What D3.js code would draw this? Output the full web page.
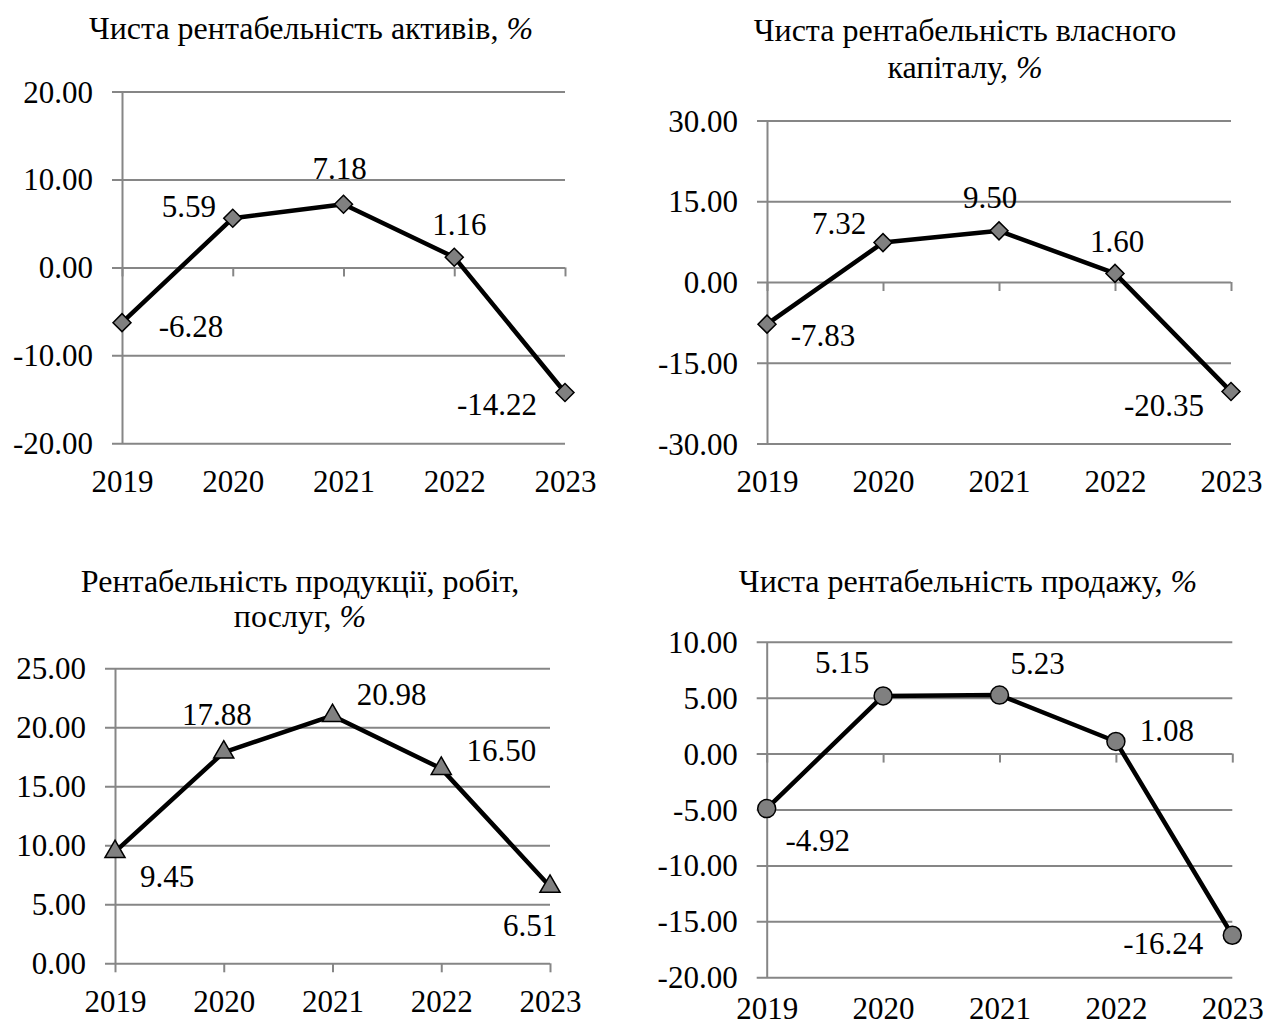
<!DOCTYPE html>
<meta charset="utf-8">
<style>
body {margin: 0; background: #fff;}
text {font-family: "Liberation Serif", "Times New Roman", serif; fill: #000;}
</style>
<body>
<div id="chart"></div>
<script src="https://d3js.org/d3.v7.min.js"></script>
<script>
// data
var years = ["2019", "2020", "2021", "2022", "2023"];
var roaValues = [-6.28, 5.59, 7.18, 1.16, -14.22];
var roeValues = [-7.83, 7.32, 9.50, 1.60, -20.35];
var productValues = [9.45, 17.88, 20.98, 16.50, 6.51];
var salesValues = [-4.92, 5.15, 5.23, 1.08, -16.24];
var roaTicks = [-20, -10, 0, 10, 20];
var roeTicks = [-30, -15, 0, 15, 30];
var productTicks = [0, 5, 10, 15, 20, 25];
var salesTicks = [-20, -15, -10, -5, 0, 5, 10];
var roaTitle = ["Чиста рентабельність активів, "];
var roeTitle = ["Чиста рентабельність власного", "капіталу, "];
var productTitle = ["Рентабельність продукції, робіт,", "послуг, "];
var salesTitle = ["Чиста рентабельність продажу, "];

// layout of the four panels (pixels)
var panels = [
  {values: roaValues, ticks: roaTicks, title: roaTitle, marker: "diamond",
   left: 122, right: 565, top: 91.5, bottom: 443.3, titleX: 311, titleY: [39], catPad: 27,
   offsets: [[69, 4], [-44, -12], [-4, -36], [5, -33], [-68, 12]]},
  {values: roeValues, ticks: roeTicks, title: roeTitle, marker: "diamond",
   left: 767, right: 1231, top: 120.5, bottom: 443.5, titleX: 965, titleY: [41, 78], catPad: 26,
   offsets: [[56, 11], [-44, -19], [-9, -33], [2, -32], [-67, 14]]},
  {values: productValues, ticks: productTicks, title: productTitle, marker: "triangle",
   left: 115, right: 550, top: 668.3, bottom: 963.3, titleX: 300, titleY: [592, 627], catPad: 27,
   offsets: [[52, 25], [-7, -38], [59, -21], [60, -18], [-20, 39]]},
  {values: salesValues, ticks: salesTicks, title: salesTitle, marker: "circle",
   left: 766.7, right: 1232.3, top: 641.7, bottom: 977.3, titleX: 968, titleY: [592], catPad: 20,
   offsets: [[51, 32], [-41, -33], [38, -32], [51, -11], [-69, 8]]}
];

var fmt = d3.formatLocale({decimal: ".", thousands: ",", grouping: [3],
                           currency: ["", ""], minus: "-"}).format(".2f");

var svg = d3.select("#chart").append("svg")
    .attr("width", 1265)
    .attr("height", 1025)
    .style("background", "#fff");

var gridColor = "#868686";

panels.forEach(function(p) {
  var x = d3.scalePoint().domain(years).range([p.left, p.right]);
  var y = d3.scaleLinear().domain(d3.extent(p.ticks)).range([p.bottom, p.top]);
  var g = svg.append("g");

  // title
  var t = g.append("text")
      .attr("text-anchor", "middle")
      .style("font-size", "32px");
  p.title.forEach(function(line, i) {
    t.append("tspan")
      .attr("x", p.titleX)
      .attr("y", p.titleY[i])
      .text(line);
  });
  t.append("tspan").style("font-style", "italic").text("%");

  // y axis with gridlines
  var ya = g.append("g")
      .attr("transform", "translate(" + p.left + ",0)")
      .call(d3.axisLeft(y).tickValues(p.ticks)
        .tickSize(-(p.right - p.left)).tickSizeOuter(0)
        .tickPadding(29).tickFormat(fmt));
  ya.select(".domain").attr("stroke", gridColor).attr("stroke-width", 2);
  ya.selectAll(".tick line").attr("x1", -10)
      .attr("stroke", gridColor).attr("stroke-width", 2);
  ya.selectAll(".tick text")
      .attr("font-family", null).attr("dy", null)
      .attr("y", 10.5)
      .style("font-size", "31px");

  // category ticks on the zero line
  var xa = g.append("g")
      .attr("transform", "translate(0," + y(0) + ")")
      .call(d3.axisBottom(x).tickSize(9).tickFormat(""));
  xa.select(".domain").remove();
  xa.selectAll(".tick line").attr("stroke", gridColor).attr("stroke-width", 2);

  // category labels under the plot
  var xl = g.append("g")
      .attr("transform", "translate(0," + p.bottom + ")")
      .call(d3.axisBottom(x).tickSize(0).tickPadding(p.catPad));
  xl.select(".domain").remove();
  xl.selectAll(".tick text").attr("font-family", null).style("font-size", "31px");

  // line
  var line = d3.line()
      .x(function(d, i) { return x(years[i]); })
      .y(function(d) { return y(d); });
  g.append("path")
      .datum(p.values)
      .attr("d", line)
      .attr("fill", "none")
      .attr("stroke", "#000")
      .attr("stroke-width", 4.5)
      .attr("stroke-linejoin", "round");

  // markers
  var sym, rot = 0;
  if (p.marker === "diamond") { sym = d3.symbol(d3.symbolSquare, 162); rot = 45; }
  else if (p.marker === "triangle") { sym = d3.symbol(d3.symbolTriangle, 175); }
  else { sym = d3.symbol(d3.symbolCircle, 254); }
  g.selectAll(".mk")
    .data(p.values)
    .enter().append("path")
      .attr("class", "mk")
      .attr("d", sym)
      .attr("transform", function(d, i) {
        return "translate(" + x(years[i]) + "," + y(d) + ") rotate(" + rot + ")";
      })
      .attr("fill", "#808080")
      .attr("stroke", "#000")
      .attr("stroke-width", 1.5);

  // data labels
  g.selectAll(".lbl")
    .data(p.values)
    .enter().append("text")
      .attr("class", "lbl")
      .attr("text-anchor", "middle")
      .attr("x", function(d, i) { return x(years[i]) + p.offsets[i][0]; })
      .attr("y", function(d, i) { return y(d) + p.offsets[i][1] + 10.5; })
      .style("font-size", "31px")
      .text(function(d) { return fmt(d); });
});
</script>
</body>
